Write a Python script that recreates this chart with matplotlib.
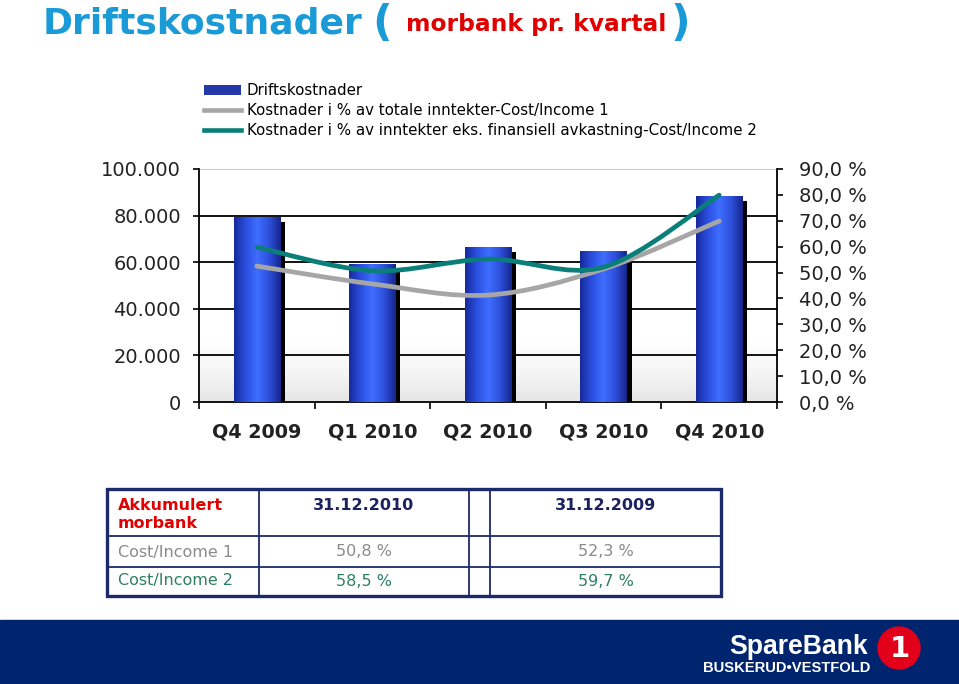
import numpy as np
import matplotlib.pyplot as plt
from matplotlib.patches import Rectangle, Circle, PathPatch
from matplotlib.path import Path
from matplotlib.lines import Line2D
from matplotlib.ticker import FuncFormatter, NullFormatter

plt.rcParams['font.family'] = ['DejaVu Sans']

# Data lest av bildet
kvartaler = ["Q4 2009", "Q1 2010", "Q2 2010", "Q3 2010", "Q4 2010"]
driftskostnader = [79000, 59200, 66100, 64800, 88000]
cost_income_1 = [52.5, 45.6, 41.3, 51.4, 69.9]
cost_income_2 = [59.8, 50.7, 55.2, 52.1, 79.9]

legend_tekster = [
    "Driftskostnader",
    "Kostnader i % av totale inntekter-Cost/Income 1",
    "Kostnader i % av inntekter eks. finansiell avkastning-Cost/Income 2",
]

tabell_kolonner = ["31.12.2010", "31.12.2009"]
tabell_rader = ["Cost/Income 1", "Cost/Income 2"]
tabell_verdier = [["50,8 %", "52,3 %"], ["58,5 %", "59,7 %"]]

W, H = 959, 684
BLA_TITTEL = '#1a9ad6'
GRA = '#a6a6a6'
TEAL = '#0a7f7a'
NAVY = '#1b2a6b'


def smooth_path(x, y):
    """Glatt kurve gjennom punktene (Catmull-Rom som Bezier)."""
    pts = np.column_stack([x, y]).astype(float)
    ext = np.vstack([pts[0], pts, pts[-1]])
    verts = [pts[0]]
    codes = [Path.MOVETO]
    for i in range(len(pts) - 1):
        p0, p1, p2, p3 = ext[i], ext[i + 1], ext[i + 2], ext[i + 3]
        verts += [p1 + (p2 - p0) / 6, p2 - (p3 - p1) / 6, p2]
        codes += [Path.CURVE4] * 3
    return Path(verts, codes)


def gradient(colors, pos=None, n=64):
    colors = np.array([plt.matplotlib.colors.to_rgb(c) for c in colors])
    if pos is None:
        pos = np.linspace(0, 1, len(colors))
    t = np.linspace(0, 1, n)
    return np.column_stack([np.interp(t, pos, colors[:, k]) for k in range(3)])


fig = plt.figure(figsize=(W / 100, H / 100), dpi=100)
ax = fig.add_axes([199 / W, 1 - 402 / H, 578 / W, 233 / H])

# bakgrunn i plottet, lys gra nederst
bg = gradient(['#e6e6e6', '#f3f3f3', '#ffffff', '#ffffff'],
              [0, 0.1, 0.25, 1], 100)[:, None, :]
ax.imshow(bg, extent=(0, 1, 0, 1), transform=ax.transAxes, origin='lower',
          aspect='auto', zorder=0)

# stolper med skygge og gradient
x = np.arange(len(kvartaler))
w = 0.40
bar_grad = gradient(['#172a9c', '#2b4fe0', '#3f6eff', '#2d50dc', '#16268c'])[None, :, :]
for xi, h in zip(x, driftskostnader):
    ax.bar(xi + w / 2 - 0.005, h - 1700, width=0.048, align='edge',
           color='black', zorder=2)
    ax.imshow(bar_grad, extent=(xi - w / 2, xi + w / 2, 0, h),
              aspect='auto', interpolation='bilinear', zorder=3)

ax.set_xlim(-0.5, 4.5)
ax.set_ylim(0, 100000)
ax.set_yticks(range(0, 100001, 20000))
ax.yaxis.set_major_formatter(FuncFormatter(lambda v, p: f"{int(v):,}".replace(",", ".")))
ax.yaxis.grid(True, color='black', lw=1.3)
ax.set_axisbelow(True)
ax.get_ygridlines()[-1].set_color('#c8c8c8')
ax.get_ygridlines()[0].set_visible(False)
ax.tick_params(axis='y', direction='out', length=4.5, width=1.2, pad=8.5,
               labelsize=14, labelcolor='#222222')

ax.set_xticks(np.arange(-0.5, 5, 1))
ax.xaxis.set_major_formatter(NullFormatter())
ax.set_xticks(x, minor=True)
ax.set_xticklabels(kvartaler, minor=True, fontweight='bold', fontsize=13.8,
                   color='#222222')
ax.tick_params(axis='x', which='major', direction='out', length=5, width=1.2)
ax.tick_params(axis='x', which='minor', length=0, pad=14.5)
for s in ['top', 'right']:
    ax.spines[s].set_visible(False)
for s in ['left', 'bottom']:
    ax.spines[s].set_linewidth(1.3)

# prosentlinjer paa hoyre akse
ax2 = ax.twinx()
ax2.set_ylim(0, 90)
ax2.set_yticks(range(0, 91, 10))
ax2.yaxis.set_major_formatter(FuncFormatter(lambda v, p: f"{v:.1f}".replace(".", ",") + " %"))
ax2.tick_params(axis='y', direction='out', length=4.5, width=1.2, pad=11,
                labelsize=14, labelcolor='#222222')
for s in ['top', 'left', 'bottom']:
    ax2.spines[s].set_visible(False)
ax2.spines['right'].set_linewidth(1.3)

ax2.add_patch(PathPatch(smooth_path(x, cost_income_1), fill=False,
                        edgecolor=GRA, lw=3.4, capstyle='round', zorder=4))
ax2.add_patch(PathPatch(smooth_path(x, cost_income_2), fill=False,
                        edgecolor=TEAL, lw=3.4, capstyle='round', zorder=5))

# legend
handles = [Rectangle((0, 0), 1, 1, facecolor='#2339a8'),
           Line2D([], [], color=GRA, lw=3.3),
           Line2D([], [], color=TEAL, lw=3.3)]
fig.legend(handles, legend_tekster, loc='upper left',
           bbox_to_anchor=(204 / W, 1 - 83 / H), frameon=False, fontsize=10.8,
           handlelength=2.45, handletextpad=0.4, labelspacing=0.34,
           borderpad=0, borderaxespad=0)

# overlegg i pikselkoordinater for tittel, tabell og banner
ov = fig.add_axes([0, 0, 1, 1])
ov.set_xlim(0, W)
ov.set_ylim(H, 0)
ov.axis('off')

ov.text(43, 33, "Driftskostnader", color=BLA_TITTEL, fontsize=26,
        fontweight='bold', va='baseline')
ov.text(372, 36, "(", color=BLA_TITTEL, fontsize=31, fontweight='bold',
        va='baseline')
ov.text(406, 31, "morbank pr. kvartal", color='#e10000', fontsize=16.8,
        fontweight='bold', va='baseline')
ov.text(670, 36, ")", color=BLA_TITTEL, fontsize=31, fontweight='bold',
        va='baseline')

# tabell
tx0, tx1, ty0, ty1 = 107, 721, 489, 596
ov.add_patch(Rectangle((tx0, ty0), tx1 - tx0, ty1 - ty0, fill=False,
                       edgecolor=NAVY, lw=2.4))
for xv in [259, 469, 490]:
    ov.plot([xv, xv], [ty0, ty1], color=NAVY, lw=1.3)
for yv in [536, 567]:
    ov.plot([tx0, tx1], [yv, yv], color=NAVY, lw=1.3)

ov.text(118, 505, "Akkumulert", color='#e00000', fontsize=11.5,
        fontweight='bold', va='center')
ov.text(118, 524, "morbank", color='#e00000', fontsize=11.5,
        fontweight='bold', va='center')
kol_x = [364, 606]
for cx, kol in zip(kol_x, tabell_kolonner):
    ov.text(cx, 505, kol, color='#1c2160', fontsize=11.5, fontweight='bold',
            ha='center', va='center')
rad_farger = ['#8a8a8a', '#2e8060']
for ry, rad, farge, verdier in zip([552, 581], tabell_rader, rad_farger,
                                   tabell_verdier):
    ov.text(118, ry, rad, color=farge, fontsize=11.5, va='center')
    for cx, v in zip(kol_x, verdier):
        ov.text(cx, ry, v, color=farge, fontsize=11.5, ha='center', va='center')

# banner med logo
ov.add_patch(Rectangle((0, 620), W, H - 620, color='#00246e'))
ov.text(729, 654, "SpareBank", color='white', fontsize=19.2, fontweight='bold',
        family='Liberation Sans', va='baseline')
ov.text(703, 672, "BUSKERUD\u2022VESTFOLD", color='white', fontsize=10.6,
        fontweight='bold', family='Liberation Sans', va='baseline')
ov.add_patch(Circle((899, 648), 21, color='#e2001a'))
ov.text(900, 649, "1", color='white', fontsize=21, fontweight='bold',
        ha='center', va='center')

fig.savefig("out.png", dpi=100)
